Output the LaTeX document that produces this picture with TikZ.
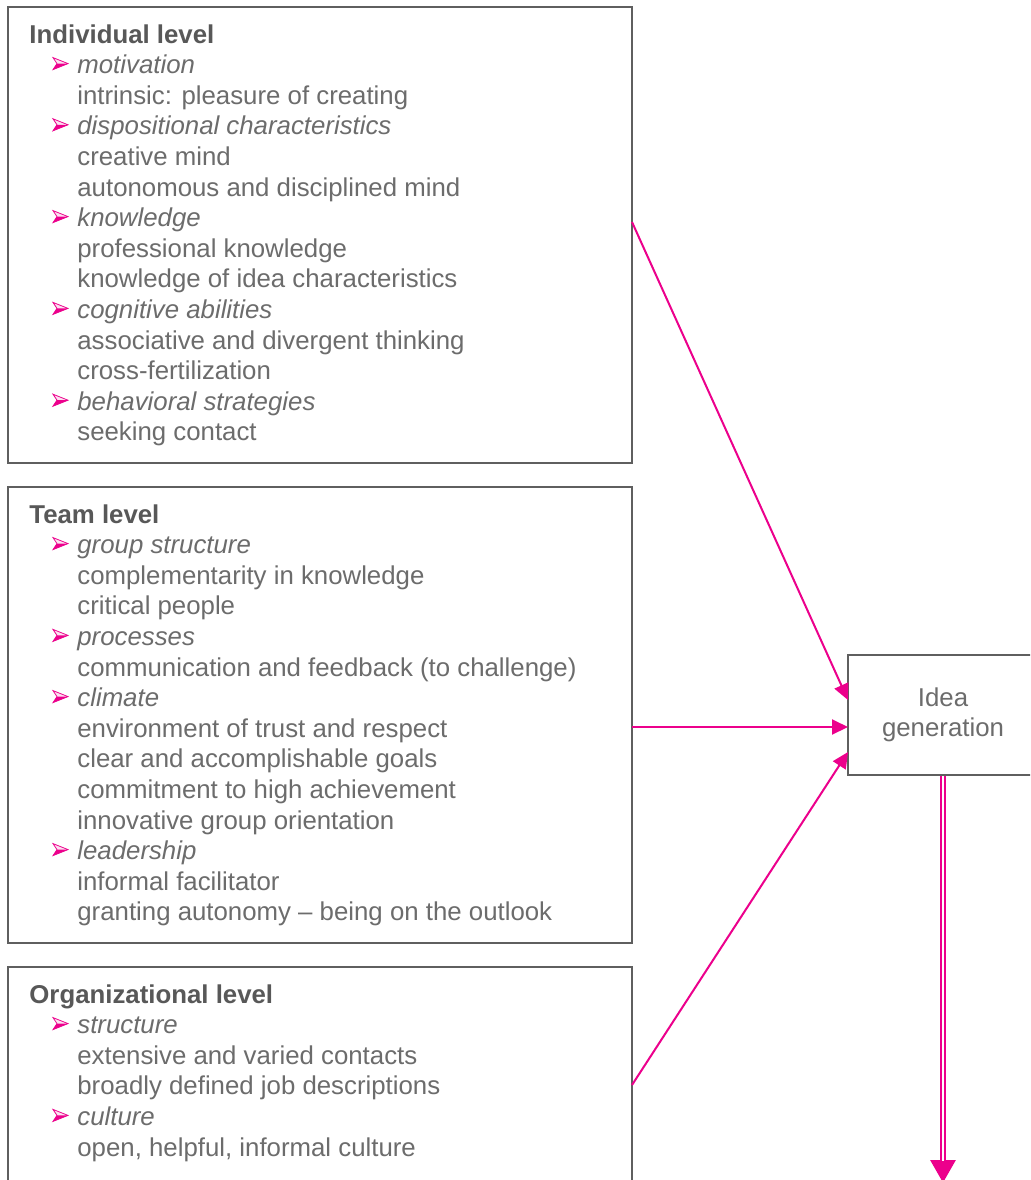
\documentclass[tikz,border=0pt]{standalone}
\usepackage{fontspec}
\setmainfont{Liberation Sans}
\usepackage{tikz}
\usetikzlibrary{calc,arrows.meta}
\definecolor{pinkline}{RGB}{236,0,140}
\definecolor{boxgray}{RGB}{95,95,95}
\definecolor{txtgray}{RGB}{108,108,108}
\definecolor{headgray}{RGB}{88,88,88}
\newcommand{\itemfont}{\fontsize{12.9pt}{15.3pt}\selectfont}
\tikzstyle{levelbox}=[draw=boxgray, line width=1pt, anchor=north west, minimum width=312pt, minimum height=228pt, inner sep=0pt, outer sep=0pt]
\tikzstyle{ideabox}=[draw=boxgray, line width=1pt, anchor=north west, minimum width=95pt, minimum height=60pt, align=center, text=txtgray, font=\itemfont, outer sep=0pt]
\tikzstyle{levelhead}=[anchor=base west, inner sep=0pt, text=headgray, font=\itemfont\bfseries]
\tikzstyle{itemtxt}=[anchor=base west, inner sep=0pt, text=txtgray, font=\itemfont]
\tikzstyle{itemhead}=[itemtxt, font=\itemfont\itshape]
\tikzstyle{pinkarrow}=[draw=pinkline, line width=1pt, -{Triangle[length=8pt,width=7.5pt]}]
\tikzset{bul/.pic={
	\filldraw[draw=pinkline, fill=pinkline!12, line width=0.4pt] (0,0) -- (15,6) -- (0,12) -- (4,6) -- cycle;
	\fill[pinkline] (4,6) -- (15,6) -- (0,12) -- cycle;
}}

\begin{document}
\begin{tikzpicture}[x=0.5pt,y=-0.5pt]
\clip (0,0) rectangle (1030,1180);
\fill[white] (0,0) rectangle (1030,1180);
\node[levelbox] (indbox) at (8,7) {};
\node[levelbox] (teambox) at (8,487) {};
\node[levelbox] (orgbox) at (8,967) {};
\node[ideabox] (idea) at (848,655) {Idea\\generation};

\node[levelhead] (indhead) at (29,43) {Individual level};
\foreach \i/\t in {1/motivation,3/dispositional characteristics,6/knowledge,9/cognitive abilities,12/behavioral strategies} {
	\pic at (53,27+30.6*\i) {bul};
	\node[itemhead] (ind\i) at (77,43+30.6*\i) {\t};
}
\foreach \i/\t in {2/{intrinsic: pleasure of creating},4/creative mind,5/autonomous and disciplined mind,7/professional knowledge,8/knowledge of idea characteristics,10/associative and divergent thinking,11/cross-fertilization,13/seeking contact} {
	\node[itemtxt] (ind\i) at (77,43+30.6*\i) {\t};
}

\node[levelhead] (teamhead) at (29,523) {Team level};
\foreach \i/\t in {1/group structure,4/processes,6/climate,11/leadership} {
	\pic at (53,507+30.6*\i) {bul};
	\node[itemhead] (team\i) at (77,523+30.6*\i) {\t};
}
\foreach \i/\t in {2/complementarity in knowledge,3/critical people,5/{communication and feedback (to challenge)},7/environment of trust and respect,8/clear and accomplishable goals,9/commitment to high achievement,10/innovative group orientation,12/informal facilitator,13/granting autonomy – being on the outlook} {
	\node[itemtxt] (team\i) at (77,523+30.6*\i) {\t};
}

\node[levelhead] (orghead) at (29,1003) {Organizational level};
\foreach \i/\t in {1/structure,4/culture} {
	\pic at (53,987+30.6*\i) {bul};
	\node[itemhead] (org\i) at (77,1003+30.6*\i) {\t};
}
\foreach \i/\t in {2/extensive and varied contacts,3/broadly defined job descriptions,5/{open, helpful, informal culture}} {
	\node[itemtxt] (org\i) at (77,1003+30.6*\i) {\t};
}

\draw[pinkarrow] ($(indbox.north east)+(0,215)$) -- ($(idea.north west)+(0,45)$);
\draw[pinkarrow] ($(teambox.north east)+(0,240)$) -- ($(idea.north west)+(0,72)$);
\draw[pinkarrow] ($(orgbox.north east)+(0,118)$) -- ($(idea.north west)+(0,97)$);

\coordinate (outend) at ($(idea.south)+(0,408)$);
\draw[pinkline, line width=3pt, shorten <=0.5pt, -{Triangle[length=11.5pt,width=12pt]}] (idea.south) -- (outend);
\draw[white, line width=1pt, shorten <=0.5pt, shorten >=11pt] (idea.south) -- (outend);
\end{tikzpicture}
\end{document}
